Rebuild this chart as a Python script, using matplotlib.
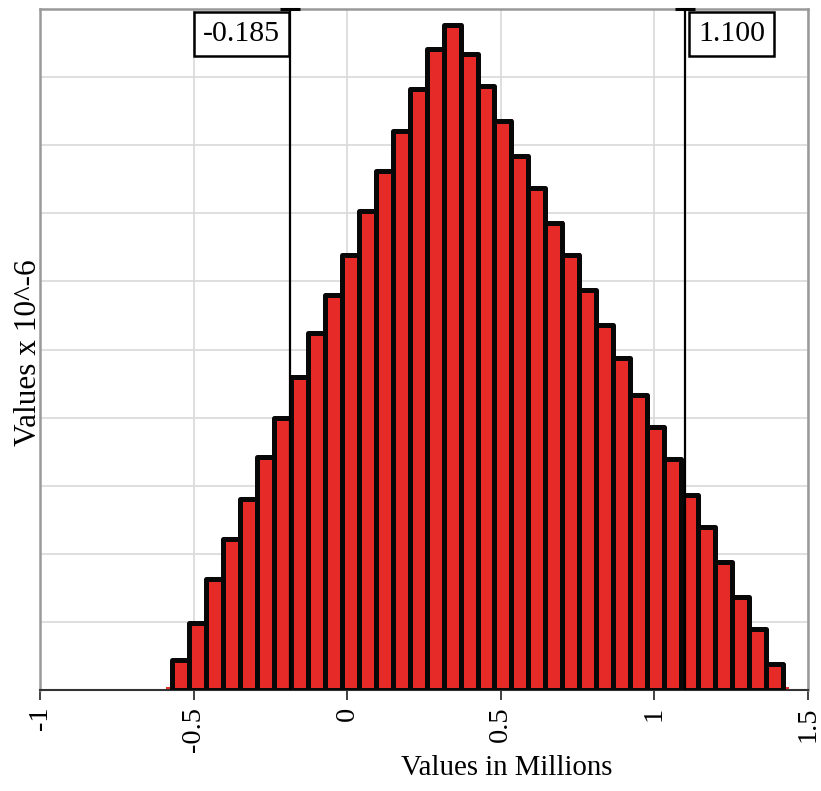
import numpy as np
import matplotlib
matplotlib.use("Agg")
import matplotlib.pyplot as plt

# ---- data ----
bin_start = -0.5703
bin_end = 1.4187
heights = [0.044, 0.098, 0.163, 0.222, 0.280, 0.342, 0.399, 0.460, 0.524, 0.580,
           0.639, 0.703, 0.762, 0.821, 0.883, 0.941, 0.976, 0.934, 0.887, 0.836,
           0.784, 0.737, 0.686, 0.639, 0.587, 0.536, 0.488, 0.433, 0.386, 0.339,
           0.286, 0.239, 0.188, 0.137, 0.090, 0.038]
tail_x = [-0.590, 1.4187]
tail_h = [0.005, 0.005]
marker_values = [-0.185, 1.100]
marker_labels = ["-0.185", "1.100"]
xticks = [-1, -0.5, 0, 0.5, 1, 1.5]
xticklabels = ["-1", "-0.5", "0", "0.5", "1", "1.5"]

plt.rcParams['font.family'] = ['Liberation Serif', 'DejaVu Serif']

RED = '#E52A27'
fig = plt.figure(figsize=(8.21, 7.91), dpi=100)
ax = fig.add_axes([40/821, 101/791, 768/821, 681/791])

edges = np.linspace(bin_start, bin_end, len(heights) + 1)
lefts = edges[:-1]
widths = np.diff(edges)

# red shadow beneath
ax.bar(lefts + 0.004, np.array(heights) + 0.002, width=widths, align='edge',
       color=RED, linewidth=0, zorder=2)
ax.bar(tail_x, tail_h, width=0.018, align='edge', color=RED, linewidth=0, zorder=2)
# main bars with thick black outline
ax.bar(lefts, heights, width=widths, align='edge', facecolor=RED,
       edgecolor='#080808', linewidth=3.6, joinstyle='round', zorder=3)

# marker lines
for v in marker_values:
    ax.plot([v, v], [0, 1.0], color='black', lw=1.6, zorder=5, clip_on=False,
            solid_capstyle='butt')
    ax.plot([v], [1.0], marker='_', markersize=14, mew=2.2, color='black',
            zorder=6, clip_on=False)

ax.annotate(marker_labels[0], xy=(marker_values[0], 1.0),
            xycoords=('data', 'axes fraction'), xytext=(-7.5, -8.5),
            textcoords='offset points', ha='right', va='top', fontsize=21.5,
            bbox=dict(boxstyle='square,pad=0.3', fc='white', ec='black', lw=1.8),
            zorder=7)
ax.annotate(marker_labels[1], xy=(marker_values[1], 1.0),
            xycoords=('data', 'axes fraction'), xytext=(9.5, -8.5),
            textcoords='offset points', ha='left', va='top', fontsize=21.5,
            bbox=dict(boxstyle='square,pad=0.3', fc='white', ec='black', lw=1.8),
            zorder=7)

ax.set_xlim(-1, 1.5)
ax.set_ylim(0, 1.0)
ax.set_xticks(xticks)
ax.set_xticklabels(xticklabels, rotation=90, fontsize=20.5, va='top', ha='center')
ax.set_yticks(np.arange(0, 1.01, 0.1))
ax.set_yticklabels([])
ax.tick_params(axis='y', length=0)
ax.tick_params(axis='x', length=7, width=1.3, color='#333333', pad=5)

ax.grid(True, color='#d9d9d9', lw=1.2, zorder=0)
ax.set_axisbelow(True)

for s in ['left', 'right', 'top']:
    ax.spines[s].set_color('#999999')
    ax.spines[s].set_linewidth(1.8)
ax.spines['bottom'].set_color('#333333')
ax.spines['bottom'].set_linewidth(1.5)

ax.set_ylabel('Values x 10^-6', fontsize=22.5)
ax.yaxis.set_label_coords(0.004, 0.495)
ax.set_xlabel('Values in Millions', fontsize=20.8)
ax.xaxis.set_label_coords(0.608, -0.095)

fig.savefig('out.png', dpi=100)
